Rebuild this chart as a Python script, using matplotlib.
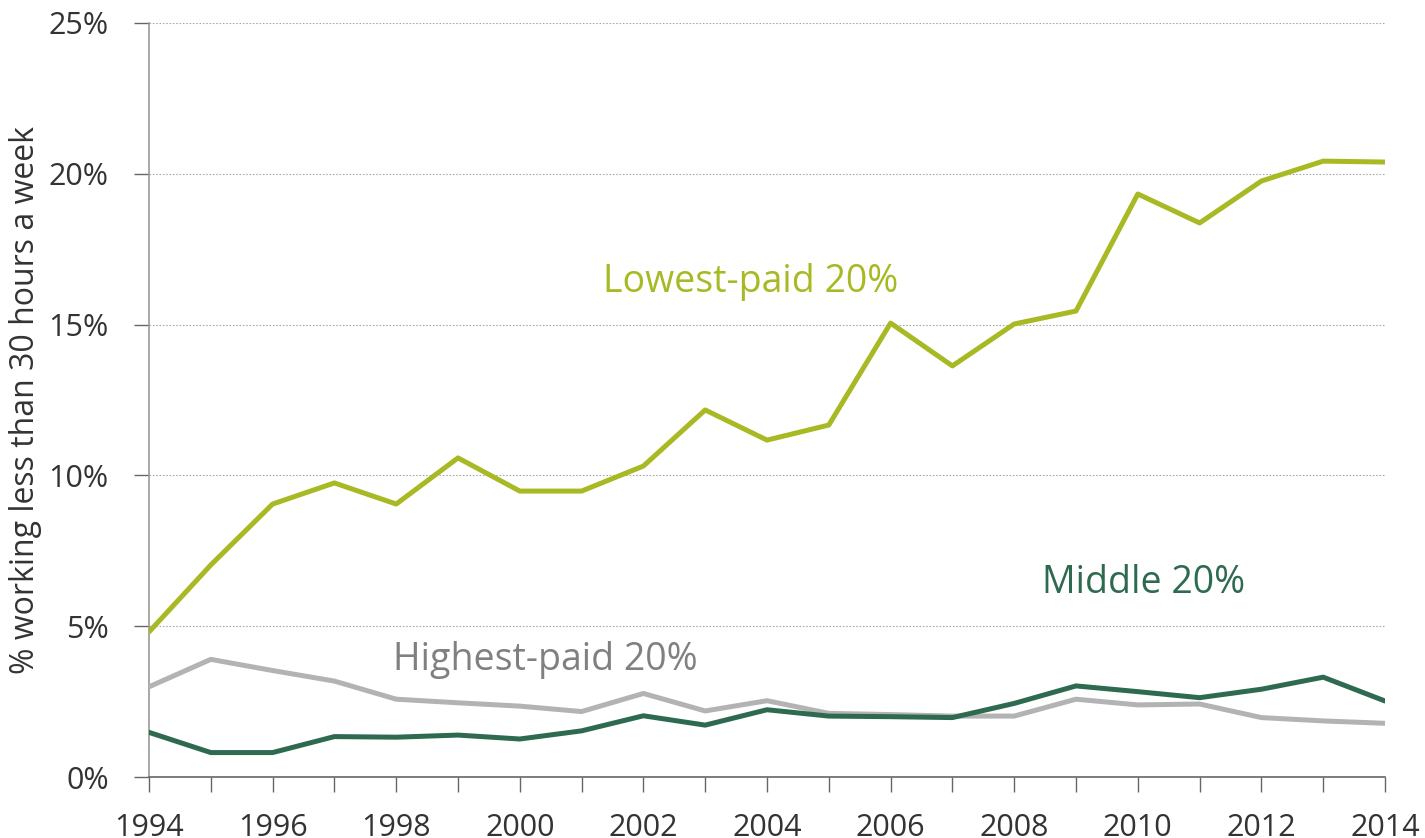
import matplotlib
matplotlib.use("Agg")
import matplotlib.pyplot as plt

years = list(range(1994, 2015))
lowest = [4.81, 7.03, 9.05, 9.75, 9.05, 10.58, 9.48, 9.48, 10.31, 12.17, 11.17,
          11.67, 15.05, 13.63, 15.02, 15.45, 19.33, 18.37, 19.76, 20.42, 20.39]
middle = [1.48, 0.81, 0.81, 1.34, 1.32, 1.39, 1.26, 1.53, 2.03, 1.72, 2.23,
          2.02, 2.00, 1.97, 2.44, 3.02, 2.83, 2.63, 2.91, 3.31, 2.52]
highest = [2.99, 3.90, 3.53, 3.18, 2.58, 2.46, 2.35, 2.17, 2.77, 2.19, 2.53,
           2.11, 2.07, 2.02, 2.02, 2.58, 2.39, 2.42, 1.97, 1.86, 1.78]
y_ticks = [0, 5, 10, 15, 20, 25]
y_labels = ["0%", "5%", "10%", "15%", "20%", "25%"]
x_ticks = list(range(1994, 2015, 2))
ylabel = "% working less than 30 hours a week"

c_low = "#a8b924"
c_mid = "#2e6a4f"
c_high = "#b3b3b3"
c_high_txt = "#808080"

plt.rcParams['font.family'] = ['Open Sans', 'DejaVu Sans']

fig = plt.figure(figsize=(14.25, 8.38), dpi=100)
ax = fig.add_axes([149/1425, 1-777/838, (1385-149)/1425, (777-23)/838])

ax.plot(years, highest, color=c_high, lw=3.6, solid_capstyle='round', zorder=3)
ax.plot(years, middle, color=c_mid, lw=3.6, solid_capstyle='round', zorder=4)
ax.plot(years, lowest, color=c_low, lw=3.6, solid_capstyle='round', zorder=5)

ax.set_xlim(1994, 2014)
ax.set_ylim(0, 25)
ax.set_yticks(y_ticks)
ax.set_yticklabels(y_labels)
ax.set_xticks(years, minor=True)
ax.set_xticks(x_ticks)
ax.set_xticklabels([str(x) for x in x_ticks])

ax.grid(axis='y', color='#aaaaaa', linestyle=(0, (1.5, 1.5)), linewidth=0.8, zorder=0)
for s in ['top', 'right']:
    ax.spines[s].set_visible(False)
ax.spines['left'].set_color('#999999')
ax.spines['left'].set_linewidth(1.2)
ax.spines['bottom'].set_color('#666666')
ax.spines['bottom'].set_linewidth(1.2)

ax.tick_params(axis='y', direction='out', length=11, width=1, color='#666666',
               labelsize=22, labelcolor='#333333', pad=18)
ax.tick_params(axis='x', which='both', direction='out', length=11, width=1, color='#666666',
               labelsize=22, labelcolor='#333333', pad=15)

ax.set_ylabel(ylabel, fontsize=23, color='#333333')
ax.yaxis.set_label_coords(-0.0866, 0.5)

ax.text(2003.74, 16.41, "Lowest-paid 20%", color=c_low, fontsize=27, ha='center', va='center')
ax.text(2010.1, 6.43, "Middle 20%", color=c_mid, fontsize=27, ha='center', va='center')
ax.text(2000.42, 3.88, "Highest-paid 20%", color=c_high_txt, fontsize=27, ha='center', va='center')

fig.savefig("out.png", dpi=100)
